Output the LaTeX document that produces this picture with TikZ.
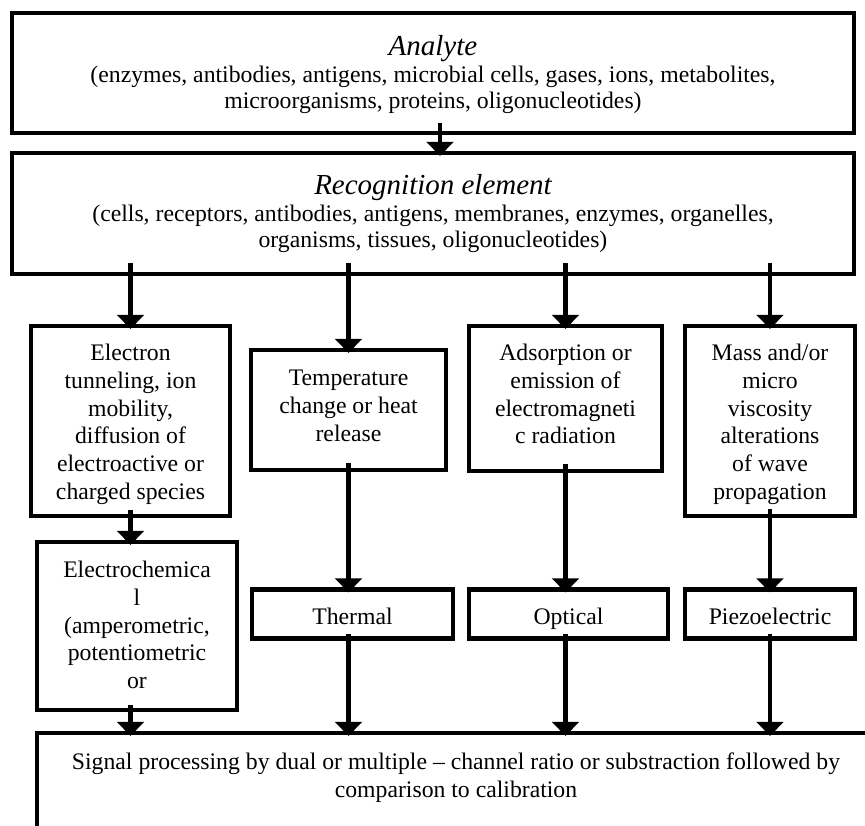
\documentclass[tikz,border=0pt]{standalone}
\usepackage{fontspec}
\setmainfont{Liberation Serif}
\usetikzlibrary{arrows.meta,positioning}
\newdimen\pxu \pxu=0.02cm

\tikzset{
  box/.style={draw, line width=2.6pt, inner sep=0pt},
  txt/.style={align=center, inner sep=0pt, font=\fontsize{13.5}{15.8}\selectfont},
  toptxt/.style={align=center, inner sep=0pt, font=\fontsize{13.5}{15.3}\selectfont},
  arr/.style={line width=2.6pt, shorten >=-3pt, -{Triangle[width=15pt,length=8pt]}},
}
\newcommand{\titletext}[1]{{\fontsize{16.5}{18}\selectfont\itshape #1}}

\begin{document}
\begin{tikzpicture}[x=0.02cm,y=-0.02cm]
\clip (0,0) rectangle (865,825);
% top row
\node[box, minimum width=842\pxu, minimum height=120\pxu] (analyte) at (433,73) {};
\node[toptxt, below=24\pxu of analyte.north] (analyte-t)
  {\titletext{Analyte}\\ (enzymes, antibodies, antigens, microbial cells, gases, ions, metabolites,\\ microorganisms, proteins, oligonucleotides)};
\node[box, minimum width=842\pxu, minimum height=121\pxu] (recog) at (433,213.5) {};
\node[toptxt, below=23\pxu of recog.north] (recog-t)
  {\titletext{Recognition element}\\ (cells, receptors, antibodies, antigens, membranes, enzymes, organelles,\\ organisms, tissues, oligonucleotides)};
% middle row
\node[box, minimum width=199\pxu, minimum height=190\pxu] (elec) at (130.5,421) {};
\node[txt, below=20\pxu of elec.north] (elec-t)
  {Electron\\ tunneling, ion\\ mobility,\\ diffusion of\\ electroactive or\\ charged species};
\node[box, minimum width=195\pxu, minimum height=120\pxu] (temp) at (348.5,410) {};
\node[txt, below=22\pxu of temp.north] (temp-t)
  {Temperature\\ change or heat\\ release};
\node[box, minimum width=193\pxu, minimum height=145\pxu] (adsorp) at (565.5,398.5) {};
\node[txt, below=20\pxu of adsorp.north] (adsorp-t)
  {Adsorption or\\ emission of\\ electromagneti\\ c radiation};
\node[box, minimum width=170\pxu, minimum height=190\pxu] (mass) at (770,421) {};
\node[txt, below=20\pxu of mass.north] (mass-t)
  {Mass and/or\\ micro\\ viscosity\\ alterations\\ of wave\\ propagation};
% transducers
\node[box, minimum width=200\pxu, minimum height=168\pxu] (echem) at (137,626) {};
\node[txt, below=21\pxu of echem.north] (echem-t)
  {Electrochemica\\ l\\ (amperometric,\\ potentiometric\\ or};
\node[box, minimum width=201\pxu, minimum height=49\pxu] (thermal) at (352.5,614) {};
\node[txt, below=20\pxu of thermal.north] (thermal-t) {Thermal};
\node[box, minimum width=199\pxu, minimum height=49\pxu] (optical) at (568.5,614) {};
\node[txt, below=20\pxu of optical.north] (optical-t) {Optical};
\node[box, minimum width=170\pxu, minimum height=49\pxu] (piezo) at (770,614) {};
\node[txt, below=20\pxu of piezo.north] (piezo-t) {Piezoelectric};
% bottom
\node[box, minimum width=838\pxu, minimum height=116\pxu] (signal) at (456,791) {};
\node[txt, below=22\pxu of signal.north] (signal-t)
  {Signal processing by dual or multiple -- channel ratio or substraction followed by\\ comparison to calibration};
% arrows
\draw[arr] ([xshift=7\pxu,yshift=12\pxu]analyte.south) -- ([xshift=7\pxu]recog.north);
\foreach \n in {elec,temp,adsorp,mass}
  \draw[arr] ([yshift=13\pxu]recog.south -| \n.north) -- (\n.north);
\draw[arr] ([yshift=8\pxu]elec.south) -- (echem.north -| elec.south);
\foreach \a/\b in {temp/thermal,adsorp/optical,mass/piezo}
  \draw[arr] ([yshift=9\pxu]\a.south) -- (\b.north -| \a.south);
\foreach \a/\b in {echem/elec,thermal/temp,optical/adsorp,piezo/mass}
  \draw[arr] ([yshift=7\pxu]\a.south -| \b.south) -- (signal.north -| \b.south);
\end{tikzpicture}
\end{document}
